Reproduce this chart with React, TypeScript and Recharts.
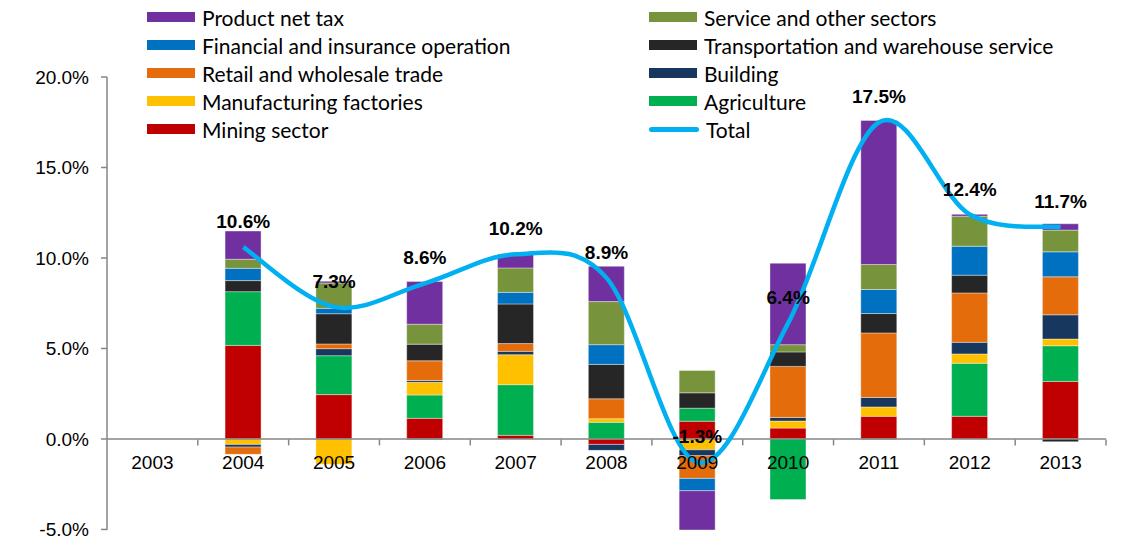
import { ComposedChart, Bar, Line, XAxis, YAxis, ReferenceLine, LabelList } from 'recharts'

const years = ['2003', '2004', '2005', '2006', '2007', '2008', '2009', '2010', '2011', '2012', '2013']

// growth contribution by sector, percentage points
const mining = [0, 5.17, 2.45, 1.14, 0.2, -0.3, 0.98, 0.6, 1.25, 1.25, 3.18]
const agriculture = [0, 2.97, 2.15, 1.29, 2.8, 0.92, 0.72, -3.35, -0.05, 2.93, 1.97]
const manufacturing = [0, -0.3, -1.4, 0.7, 1.66, 0.2, -0.6, 0.39, 0.52, 0.52, 0.37]
const building = [0, -0.15, 0.39, 0.1, 0.18, -0.33, -0.33, 0.2, 0.52, 0.64, 1.34]
const retail = [0, -0.4, 0.26, 1.09, 0.43, 1.1, -1.25, 2.82, 3.57, 2.73, 2.1]
const transport = [0, 0.61, 1.67, 0.92, 2.19, 1.9, 0.85, 0.8, 1.07, 0.98, -0.15]
const financial = [0, 0.68, 0.3, -0.05, 0.64, 1.09, -0.68, 0, 1.33, 1.6, 1.38]
const service = [0, 0.5, 1.4, 1.1, 1.35, 2.38, 1.23, 0.4, 1.38, 1.66, 1.2]
const netTax = [0, 1.56, 0.1, 2.36, 0.75, 1.95, -2.17, 4.5, 7.96, 0.1, 0.35]
const total = [null, 10.6, 7.3, 8.6, 10.2, 8.9, -1.3, 6.4, 17.5, 12.4, 11.7]

const yTicks = [-5, 0, 5, 10, 15, 20]

const series = [
  { key: 'mining', name: 'Mining sector', color: '#C00000', values: mining },
  { key: 'agriculture', name: 'Agriculture', color: '#00B050', values: agriculture },
  { key: 'manufacturing', name: 'Manufacturing factories', color: '#FFC000', values: manufacturing },
  { key: 'building', name: 'Building', color: '#17375E', values: building },
  { key: 'retail', name: 'Retail and wholesale trade', color: '#E46C0A', values: retail },
  { key: 'transport', name: 'Transportation and warehouse service', color: '#262626', values: transport },
  { key: 'financial', name: 'Financial and insurance operation', color: '#0070C0', values: financial },
  { key: 'service', name: 'Service and other sectors', color: '#77933C', values: service },
  { key: 'netTax', name: 'Product net tax', color: '#7030A0', values: netTax },
]

const data = years.map((year, i) => {
  const row: Record<string, any> = { year, total: total[i] }
  series.forEach((s) => (row[s.key] = s.values[i]))
  return row
})

const W = 1132
const H = 539
const margin = { top: 77, right: 26, bottom: 8, left: 17 }
const yAxisWidth = 90
const xAxisHeight = 1
const plotW = W - margin.left - margin.right - yAxisWidth
const plotH = H - margin.top - margin.bottom - xAxisHeight
const band = plotW / years.length
const zeroFromBottom = (plotH * (0 - yTicks[0])) / (yTicks[yTicks.length - 1] - yTicks[0])
const axisGray = '#868686'
const arial = "'Liberation Sans', Arial, sans-serif"

// Excel-style smoothing (Catmull-Rom through the points)
function excelSmooth(context: any) {
  let pts: number[][] = []
  return {
    areaStart() {},
    areaEnd() {},
    lineStart() {
      pts = []
    },
    point(x: number, y: number) {
      pts.push([+x, +y])
    },
    lineEnd() {
      if (!pts.length) return
      context.moveTo(pts[0][0], pts[0][1])
      for (let i = 0; i < pts.length - 1; i++) {
        const p0 = pts[i - 1] || pts[i]
        const p1 = pts[i]
        const p2 = pts[i + 1]
        const p3 = pts[i + 2] || p2
        context.bezierCurveTo(
          p1[0] + (p2[0] - p0[0]) / 6,
          p1[1] + (p2[1] - p0[1]) / 6,
          p2[0] - (p3[0] - p1[0]) / 6,
          p2[1] - (p3[1] - p1[1]) / 6,
          p2[0],
          p2[1]
        )
      }
    },
  }
}

function YearTick(props: any) {
  const { x, y, payload, index } = props
  // axis sits at the bottom of the plot; labels belong under the zero line
  const zy = y - zeroFromBottom
  return (
    <g>
      {index < years.length && (
        <line x1={x + band / 2} x2={x + band / 2} y1={zy} y2={zy + 6} stroke={axisGray} strokeWidth={1.5} />
      )}
      <text x={x} y={zy + 30} textAnchor="middle" fontSize={19} fill="#000" fontFamily={arial}>
        {payload.value}
      </text>
    </g>
  )
}

function TotalLabel(props: any) {
  const { x, y, value } = props
  if (value == null) return null
  return (
    <text x={x} y={y - 19} textAnchor="middle" fontSize={19} fontWeight="bold" fill="#000" fontFamily={arial}>
      {`${Number(value).toFixed(1)}%`}
    </text>
  )
}

function ChartLegend() {
  const items = [...series].reverse()
  const left = items.filter((_, i) => i % 2 === 0)
  const right = [...items.filter((_, i) => i % 2 === 1), null]
  const row = (s: any, i: number, col: number) => (
    <div
      key={s ? s.key : 'total'}
      style={{ position: 'absolute', left: col === 0 ? 147 : 649, top: 3 + i * 28, height: 28, display: 'flex', alignItems: 'center' }}
    >
      {s ? (
        <div style={{ width: 48, height: 10, background: s.color }} />
      ) : (
        <div style={{ width: 50, height: 5, borderRadius: 3, background: '#00B0F0' }} />
      )}
      <span style={{ marginLeft: 7, fontSize: 21, color: '#000', whiteSpace: 'nowrap' }}>{s ? s.name : 'Total'}</span>
    </div>
  )
  return (
    <div style={{ position: 'absolute', left: 0, top: 0, fontFamily: "Lato, 'Open Sans', sans-serif" }}>
      {left.map((s, i) => row(s, i, 0))}
      {right.map((s, i) => row(s, i, 1))}
    </div>
  )
}

export default function App() {
  return (
    <div style={{ position: 'fixed', left: 0, top: 0, width: W, height: H, background: '#fff' }}>
      <ComposedChart width={W} height={H} data={data} margin={margin} stackOffset="sign" barCategoryGap="30%">
        <XAxis
          dataKey="year"
          axisLine={false}
          tickLine={false}
          tickSize={0}
          tickMargin={0}
          height={xAxisHeight}
          interval={0}
          tick={(p: any) => <YearTick {...p} />}
        />
        <YAxis
          domain={[yTicks[0], yTicks[yTicks.length - 1]]}
          ticks={yTicks}
          interval={0}
          width={yAxisWidth}
          tickFormatter={(v: number) => `${v.toFixed(1)}%`}
          tick={{ fill: '#000', fontSize: 19, fontFamily: arial }}
          axisLine={{ stroke: axisGray, strokeWidth: 1.5 }}
          tickLine={{ stroke: axisGray, strokeWidth: 1.5 }}
          tickSize={6}
          tickMargin={12}
        />
        {series.map((s) => (
          <Bar
            key={s.key}
            dataKey={s.key}
            name={s.name}
            stackId="a"
            fill={s.color}
            stroke="rgba(255,255,255,0.55)"
            strokeWidth={0.7}
            isAnimationActive={false}
          />
        ))}
        <ReferenceLine y={0} stroke={axisGray} strokeWidth={1.5} />
        <Line
          dataKey="total"
          name="Total"
          type={excelSmooth as any}
          stroke="#00B0F0"
          strokeWidth={4.5}
          dot={false}
          activeDot={false}
          isAnimationActive={false}
        >
          <LabelList dataKey="total" content={<TotalLabel />} />
        </Line>
      </ComposedChart>
      <ChartLegend />
    </div>
  )
}
